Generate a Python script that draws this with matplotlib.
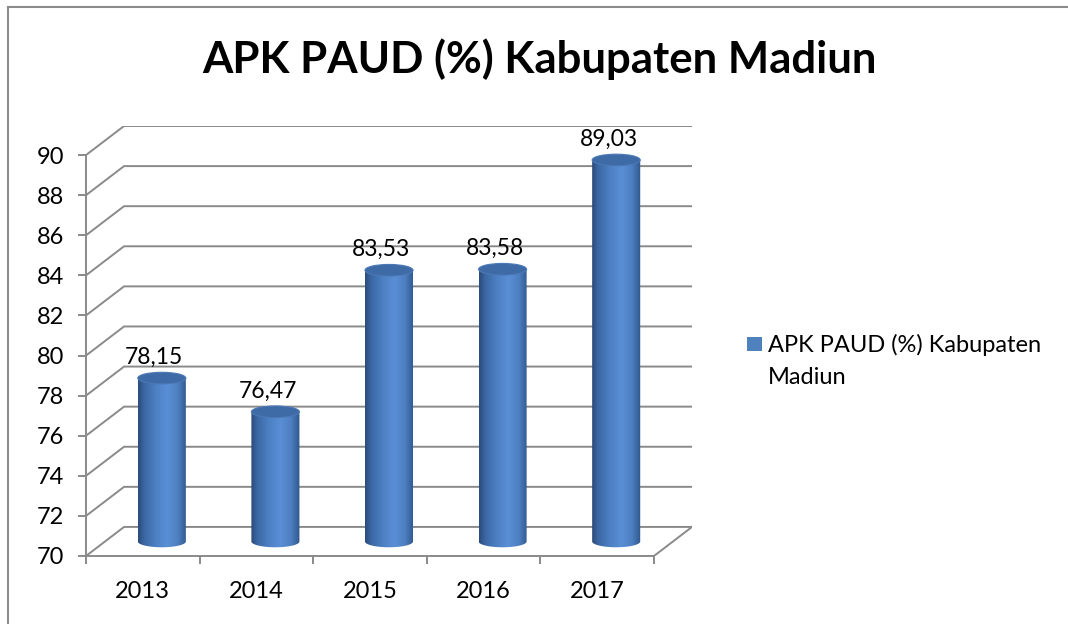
import numpy as np
import matplotlib.pyplot as plt
from matplotlib.patches import Polygon, Ellipse, Rectangle
from matplotlib.colors import LinearSegmentedColormap
from matplotlib.lines import Line2D

years = ['2013', '2014', '2015', '2016', '2017']
apk = [78.15, 76.47, 83.53, 83.58, 89.03]
apk_text = ['78,15', '76,47', '83,53', '83,58', '89,03']
yticks = list(range(70, 91, 2))
series_name = 'APK PAUD (%) Kabupaten\nMadiun'
title = 'APK PAUD (%) Kabupaten Madiun'

plt.rcParams['font.family'] = ['Lato', 'DejaVu Sans']

W, H = 1068, 624
fig = plt.figure(figsize=(W / 100, H / 100), dpi=100)
ax = fig.add_axes([86 / W, 1 - 556 / H, (692 - 86) / W, (556 - 126) / H])
ax.patch.set_visible(False)

# fake 3d depth of the excel chart (in data units)
dx, dy = 0.335, 1.45
n = len(years)
grid = '#8a8a8a'

for v in yticks:
    ax.plot([-0.5, -0.5 + dx, n - 0.5 + dx], [v, v + dy, v + dy],
            color=grid, lw=1.4, zorder=1)
ax.plot([n - 0.5, n - 0.5 + dx], [70, 70 + dy], color=grid, lw=1.4, zorder=1)

cmap = LinearSegmentedColormap.from_list('cyl', [
    (0.0, '#2b4a78'), (0.12, '#3b66a2'), (0.35, '#4c7fc2'),
    (0.6, '#5a8fd6'), (0.82, '#4d7fc0'), (1.0, '#30568c')])
grad = np.linspace(0, 1, 256).reshape(1, -1)
bw = 0.423
eh = 0.58
t = np.linspace(np.pi, 2 * np.pi, 80)
base = 70 + dy / 2

for i, v in enumerate(apk):
    cx = i + dx / 2
    top = v + dy / 2
    xl, xr = cx - bw / 2, cx + bw / 2
    arc = list(zip(cx + bw / 2 * np.cos(t), base + eh / 2 * np.sin(t)))
    body = Polygon([(xl, top)] + arc + [(xr, top)], closed=True,
                   facecolor='none', edgecolor='none')
    ax.add_patch(body)
    im = ax.imshow(grad, cmap=cmap, aspect='auto', interpolation='bilinear',
                   extent=[xl, xr, base - eh, top], zorder=3)
    im.set_clip_path(body)
    ax.add_patch(Ellipse((cx, top), bw, eh, facecolor='#3e6aa5',
                         edgecolor='#4b79b6', lw=0.8, zorder=4))
    ax.annotate(apk_text[i], (i + 0.1, top + eh / 2), xytext=(0, 6),
                textcoords='offset points', ha='center', va='baseline',
                fontsize=16.5, color='black', zorder=5)

ax.set_xlim(-0.5, n - 0.5 + dx)
ax.set_ylim(70, 90 + dy)

for s in ['top', 'right']:
    ax.spines[s].set_visible(False)
ax.spines['left'].set_bounds(70, 90)
ax.spines['bottom'].set_bounds(-0.5, n - 0.5)
for s in ['left', 'bottom']:
    ax.spines[s].set_color(grid)
    ax.spines[s].set_linewidth(1.4)

ax.set_yticks(yticks)
ax.set_yticklabels([str(v) for v in yticks])
ax.tick_params(axis='y', length=6, width=1.4, color=grid, pad=10, labelsize=17)
ax.set_xticks(np.arange(n + 1) - 0.5)
ax.set_xticklabels([])
ax.set_xticks(np.arange(n), minor=True)
ax.set_xticklabels(years, minor=True)
ax.tick_params(axis='x', which='major', length=6, width=1.4, color=grid)
ax.tick_params(axis='x', which='minor', length=0, pad=18, labelsize=17)

fig.text(539 / W, 1 - 73 / H, title, ha='center', va='baseline',
         fontsize=31.5, fontweight='bold')

# legend
fig.patches.append(Rectangle((747 / W, 1 - 351 / H), 15 / W, 14 / H,
                             transform=fig.transFigure, facecolor='#4f81bd',
                             edgecolor='none'))
fig.text(768 / W, 1 - 384 / H, series_name, ha='left', va='baseline',
         fontsize=17, linespacing=1.65)

# chart area border (top and left edges visible)
fig.lines.append(Line2D([8 / W, 8 / W], [0, 1 - 7 / H], transform=fig.transFigure,
                        color='#8c8c8c', lw=1.5))
fig.lines.append(Line2D([8 / W, 1], [1 - 7 / H, 1 - 7 / H], transform=fig.transFigure,
                        color='#8c8c8c', lw=1.5))

fig.savefig('out.png', dpi=100)
